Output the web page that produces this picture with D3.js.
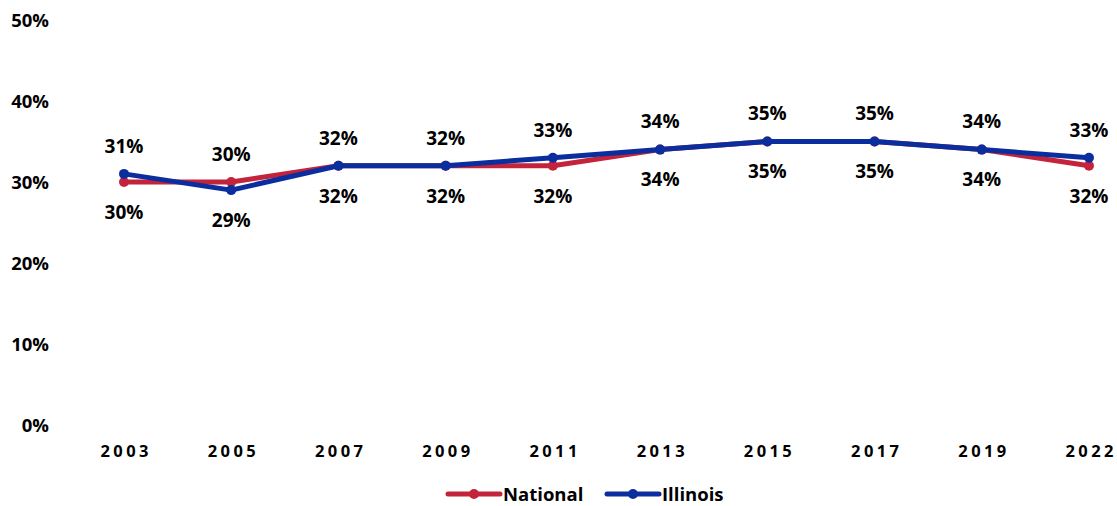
<!DOCTYPE html>
<html><head><meta charset="utf-8">
<script src="https://cdn.jsdelivr.net/npm/d3@7"></script>
<style>body{margin:0;background:#fff}svg{display:block}text{font-family:"Open Sans",sans-serif;font-weight:700;fill:#000}</style>
</head><body>
<svg id="c" width="1117" height="506"></svg>
<script>
const years = ["2003","2005","2007","2009","2011","2013","2015","2017","2019","2022"];
const national = [30,30,32,32,32,34,35,35,34,32];
const illinois = [31,29,32,32,33,34,35,35,34,33];
const yTicks = [0,10,20,30,40,50];
const seriesNames = ["National","Illinois"];
const colors = ["#C4243B","#0B2E9E"];

const svg = d3.select("#c");
const x = d3.scalePoint().domain(years).range([124,1089]);
const y = d3.scaleLinear().domain([0,50]).range([425,20]);

// y-axis labels
const yAxis = d3.axisLeft(y).tickValues(yTicks).tickFormat(d=>d+"%").tickSize(0).tickPadding(0);
const yg = svg.append("g").attr("transform","translate(49,0)").call(yAxis);
yg.select(".domain").remove();
yg.selectAll("text").attr("font-size",18.5).attr("dy","0.36em").style("font-family","'Open Sans',sans-serif").style("font-weight",700).attr("fill","#000");

// x-axis labels
const xAxis = d3.axisBottom(x).tickSize(0).tickPadding(0);
const xg = svg.append("g").attr("transform","translate(0,451)").call(xAxis);
xg.select(".domain").remove();
xg.selectAll("text").attr("font-size",16.5).attr("dy","0.36em").attr("dx","1.7px").style("letter-spacing","3.4px")
  .style("font-family","'Open Sans',sans-serif").style("font-weight",700).attr("fill","#000");

const data = [national, illinois];
const line = d3.line().x((d,i)=>x(years[i])).y(d=>y(d));
data.forEach((vals,si)=>{
  svg.append("path").datum(vals).attr("d",line).attr("fill","none")
    .attr("stroke",colors[si]).attr("stroke-width",5).attr("stroke-linejoin","round");
  svg.selectAll(null).data(vals).enter().append("circle")
    .attr("cx",(d,i)=>x(years[i])).attr("cy",d=>y(d)).attr("r",5).attr("fill",colors[si]);
});

// data labels: higher value above, lower below (ties: Illinois above)
years.forEach((yr,i)=>{
  const n = national[i], il = illinois[i];
  let above, below;
  if (n > il) { above = n; below = il; } else { above = il; below = n; }
  svg.append("text").attr("x",x(yr)).attr("y",y(above)-28).attr("text-anchor","middle")
    .attr("dy","0.36em").attr("font-size",19).text(above+"%");
  svg.append("text").attr("x",x(yr)).attr("y",y(below)+30).attr("text-anchor","middle")
    .attr("dy","0.36em").attr("font-size",19).text(below+"%");
});

// legend
const legendX = [448, 607];
seriesNames.forEach((name,si)=>{
  const g = svg.append("g").attr("transform",`translate(${legendX[si]},494)`);
  g.append("line").attr("x1",0).attr("x2",52).attr("y1",0).attr("y2",0)
    .attr("stroke",colors[si]).attr("stroke-width",5).attr("stroke-linecap","round");
  g.append("circle").attr("cx",26).attr("cy",0).attr("r",5).attr("fill",colors[si]);
  g.append("text").attr("x",55).attr("y",0).attr("dy","0.36em").attr("font-size",18.5).text(name);
});
</script>
</body></html>
